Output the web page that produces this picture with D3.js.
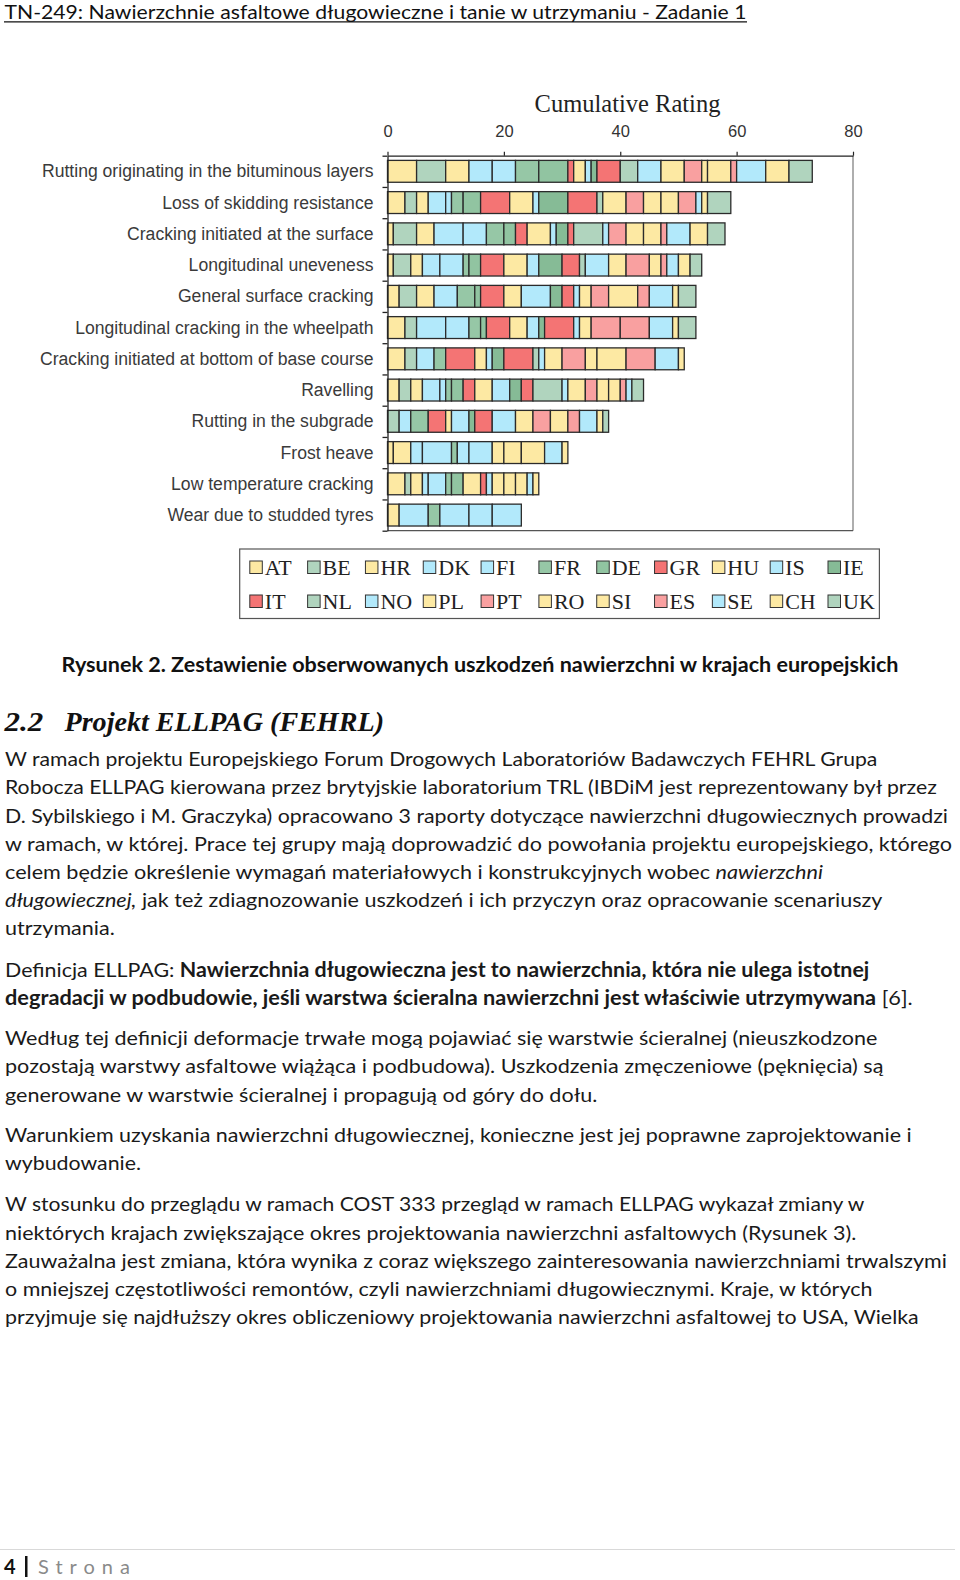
<!DOCTYPE html>
<html><head><meta charset="utf-8">
<script src="https://cdn.jsdelivr.net/npm/d3@7"></script>
<style>
body{margin:0;background:#fff}
svg text{white-space:pre}
</style>
</head><body>
<svg id="page" width="960" height="1580"></svg>
<script>
// ---------- chart data ----------
const damageTypes = [
  "Rutting originating in the bituminous layers",
  "Loss of skidding resistance",
  "Cracking initiated at the surface",
  "Longitudinal uneveness",
  "General surface cracking",
  "Longitudinal cracking in the wheelpath",
  "Cracking initiated at bottom of base course",
  "Ravelling",
  "Rutting in the subgrade",
  "Frost heave",
  "Low temperature cracking",
  "Wear due to studded tyres"
];
const countries = ["AT","BE","HR","DK","FI","FR","DE","GR","HU","IS","IE",
                   "IT","NL","NO","PL","PT","RO","SI","ES","SE","CH","UK"];
const countryColors = ["#fde9a3","#b0d4be","#fde9a3","#b2e9fb","#b2e9fb","#96c7a6","#91c4a1","#f47474","#fde9a3","#b2e9fb","#86bb96",
                       "#f47474","#b0d4be","#b2e9fb","#fde9a3","#f9a0a0","#fde9a3","#fde9a3","#f9a0a0","#b2e9fb","#fde9a3","#b0d4be"];
const ratingTicks = [0, 20, 40, 60, 80];
const axisTitle = "Cumulative Rating";

// series values: one rating per damage type (same order as damageTypes)
const AT = [5,3,1,1,2,3,3,2,0,1,3,2];
const BE = [5,2,4,3,3,2,2,2,2,0,1,0];
const HR = [4,2,3,2,3,0,0,2,0,3,2,0];
const DK = [4,3,5,3,4,5,3,3,2,2,1,0];
const FI = [4,1,4,4,0,4,0,1,0,5,3,5];
const FR = [4,2,3,1,3,2,2,1,3,1,1,2];
const DE = [5,3,2,2,1,1,0,2,0,0,2,0];
const GR = [1,5,2,4,4,4,5,2,3,0,0,0];
const HU = [2,4,4,4,3,3,2,3,1,0,3,0];
const IS = [1,1,1,2,5,2,1,3,3,2,0,5];
const IE = [1,5,2,4,2,1,2,2,1,0,0,0];
const IT = [4,5,1,3,2,5,5,2,3,0,1,0];
const NL = [3,1,5,1,0,0,1,5,0,0,0,0];
const NO = [4,0,1,4,1,1,1,1,4,4,1,4];
const PL = [4,4,0,3,2,2,3,3,3,2,2,0];
const PT = [3,3,3,4,3,5,4,2,3,0,0,0];
const RO = [1,3,3,2,5,0,2,2,3,3,2,0];
const SI = [4,3,3,0,0,0,5,2,0,4,2,0];
const ES = [1,3,1,1,2,5,5,1,2,0,0,0];
const SE = [5,1,4,2,4,4,4,1,3,3,1,5];
const CH = [4,1,3,2,1,1,1,0,1,1,1,0];
const UK = [4,4,3,2,3,3,0,2,1,0,0,0];
const seriesValues = [AT,BE,HR,DK,FI,FR,DE,GR,HU,IS,IE,IT,NL,NO,PL,PT,RO,SI,ES,SE,CH,UK];

// ---------- page texts ----------
const headerText = "TN-249: Nawierzchnie asfaltowe długowieczne i tanie w utrzymaniu - Zadanie 1";
const captionText = "Rysunek 2. Zestawienie obserwowanych uszkodzeń nawierzchni w krajach europejskich";
const sectionNumber = "2.2";
const sectionTitle = "Projekt ELLPAG (FEHRL)";
const bodyLines = [
  [["W ramach projektu Europejskiego Forum Drogowych Laboratoriów Badawczych FEHRL Grupa"]],
  [["Robocza ELLPAG kierowana przez brytyjskie laboratorium TRL (IBDiM jest reprezentowany był przez"]],
  [["D. Sybilskiego i M. Graczyka) opracowano 3 raporty dotyczące nawierzchni długowiecznych prowadzi"]],
  [["w ramach, w której. Prace tej grupy mają doprowadzić do powołania projektu europejskiego, którego"]],
  [["celem będzie określenie wymagań materiałowych i konstrukcyjnych wobec "],["nawierzchni","i"]],
  [["długowiecznej,","i"],[" jak też zdiagnozowanie uszkodzeń i ich przyczyn oraz opracowanie scenariuszy"]],
  [["utrzymania."]],
  [["Definicja ELLPAG: "],["Nawierzchnia długowieczna jest to nawierzchnia, która nie ulega istotnej","b"]],
  [["degradacji w podbudowie, jeśli warstwa ścieralna nawierzchni jest właściwie utrzymywana","b"],[" [6]."]],
  [["Według tej definicji deformacje trwałe mogą pojawiać się warstwie ścieralnej (nieuszkodzone"]],
  [["pozostają warstwy asfaltowe wiążąca i podbudowa). Uszkodzenia zmęczeniowe (pęknięcia) są"]],
  [["generowane w warstwie ścieralnej i propagują od góry do dołu."]],
  [["Warunkiem uzyskania nawierzchni długowiecznej, konieczne jest jej poprawne zaprojektowanie i"]],
  [["wybudowanie."]],
  [["W stosunku do przeglądu w ramach COST 333 przegląd w ramach ELLPAG wykazał zmiany w"]],
  [["niektórych krajach zwiększające okres projektowania nawierzchni asfaltowych (Rysunek 3)."]],
  [["Zauważalna jest zmiana, która wynika z coraz większego zainteresowania nawierzchniami trwalszymi"]],
  [["o mniejszej częstotliwości remontów, czyli nawierzchniami długowiecznymi. Kraje, w których"]],
  [["przyjmuje się najdłuższy okres obliczeniowy projektowania nawierzchni asfaltowej to USA, Wielka"]]
];
const bodyBaselines = [766,794.3,822.5,850.7,878.9,907.1,935.3,976.5,1004.8,1045.1,1073.3,1101.5,1141.8,1170,1211.3,1239.5,1267.7,1295.9,1324.1];
const bodyRightEdges = [877.4,936.8,947.9,951.9,823,882.4,114.8,869.3,912.7,877.4,883.4,597.4,911.7,141,864.3,856.2,946.9,872.4,918.7];

// ---------- drawing ----------
const svg = d3.select("#page");
svg.append("rect").attr("width",960).attr("height",1580).attr("fill","#fff");
const bodyFont = "Lato, 'Open Sans', sans-serif";

// header
svg.append("text").attr("x",4.5).attr("y",18.6)
  .attr("font-family",bodyFont).attr("font-size",18.4).attr("fill","#111")
  .attr("textLength",742).attr("lengthAdjust","spacingAndGlyphs")
  .text(headerText);
svg.append("line").attr("x1",4).attr("x2",747).attr("y1",21.8).attr("y2",21.8)
  .attr("stroke","#111").attr("stroke-width",1.2);

// chart scales
const x = d3.scaleLinear().domain([0,80]).range([387.5,853]);
const y = d3.scaleBand().domain(damageTypes).range([155.7,530.7]).paddingInner(0.3).paddingOuter(0.15);
const yEdge = d3.scaleLinear().domain([0,damageTypes.length]).range([155.7,530.7]);

const tableRows = damageTypes.map((t,i)=>{
  const row = {type:t};
  countries.forEach((c,j)=>{ row[c] = seriesValues[j][i]; });
  return row;
});
const stacked = d3.stack().keys(countries)(tableRows);

const chart = svg.append("g");
// frame: right & bottom border
chart.append("line").attr("x1",x(80)).attr("x2",x(80)).attr("y1",155.7).attr("y2",530.7)
  .attr("stroke","#9a9a9a").attr("stroke-width",1.6);
chart.append("line").attr("x1",x(0)).attr("x2",x(80)).attr("y1",530.7).attr("y2",530.7)
  .attr("stroke","#555").attr("stroke-width",1.2);

// bars
stacked.forEach((layer,k)=>{
  chart.append("g").selectAll("rect")
    .data(layer.filter(d=>d[1]>d[0]))
    .join("rect")
    .attr("x",d=>x(d[0]))
    .attr("y",d=>y(d.data.type))
    .attr("width",d=>x(d[1])-x(d[0]))
    .attr("height",y.bandwidth())
    .attr("fill",countryColors[k])
    .attr("stroke","#2b2b2b").attr("stroke-width",1.3);
});

// top axis
const topAxis = chart.append("g").attr("transform","translate(0,155.7)")
  .call(d3.axisTop(x).tickValues(ratingTicks).tickSize(4).tickPadding(15).tickSizeOuter(0));
topAxis.select(".domain").attr("stroke","#222").attr("stroke-width",1.2);
topAxis.selectAll(".tick line").attr("stroke","#222").attr("stroke-width",1.2);
topAxis.selectAll(".tick text").attr("font-family","'Liberation Sans', Arial, sans-serif")
  .attr("font-size",16.5).attr("fill","#333");

// left axis (ticks at band edges)
const leftAxis = chart.append("g").attr("transform",`translate(${x(0)},0)`)
  .call(d3.axisLeft(yEdge).tickValues(d3.range(0,damageTypes.length+1)).tickSize(5).tickFormat("").tickSizeOuter(0));
leftAxis.select(".domain").attr("stroke","#222").attr("stroke-width",1.3);
leftAxis.selectAll(".tick line").attr("stroke","#222").attr("stroke-width",1.3);

// category labels
chart.append("g").selectAll("text").data(damageTypes).join("text")
  .attr("x",373.5).attr("y",d=>y(d)+y.bandwidth()/2+6)
  .attr("text-anchor","end")
  .attr("font-family","'Liberation Sans', Arial, sans-serif").attr("font-size",17.6).attr("fill","#3a3a3a")
  .text(d=>d);

// axis title
chart.append("text").attr("x",627.5).attr("y",111.5).attr("text-anchor","middle")
  .attr("font-family","'Liberation Serif', 'Times New Roman', serif").attr("font-size",24.5).attr("fill","#222")
  .text(axisTitle);

// legend
const legend = svg.append("g");
legend.append("rect").attr("x",239.7).attr("y",549).attr("width",639.7).attr("height",69.5)
  .attr("fill","#fff").attr("stroke","#555").attr("stroke-width",1.2);
const legendCol = d3.scaleLinear().domain([0,10]).range([249.8,828]);
const legendRow = d3.scaleLinear().domain([0,1]).range([567.5,601.5]);
const items = legend.selectAll("g.item").data(countries).join("g").attr("class","item")
  .attr("transform",(d,i)=>`translate(${legendCol(i%11)},${legendRow(Math.floor(i/11))})`);
items.append("rect").attr("x",0).attr("y",-6.5).attr("width",12.5).attr("height",12.5)
  .attr("fill",(d,i)=>countryColors[i]).attr("stroke","#333").attr("stroke-width",1);
items.append("text").attr("x",15).attr("y",7.5)
  .attr("font-family","'Liberation Serif', 'Times New Roman', serif").attr("font-size",22).attr("fill","#222")
  .text(d=>d);

// caption
svg.append("text").attr("x",61.5).attr("y",671.5)
  .attr("font-family",bodyFont).attr("font-weight","bold").attr("font-size",20).attr("fill","#111")
  .attr("textLength",837).attr("lengthAdjust","spacingAndGlyphs")
  .text(captionText);

// section heading
svg.append("text").attr("x",4.5).attr("y",731)
  .attr("font-family","'Liberation Serif', serif").attr("font-weight","bold").attr("font-style","italic")
  .attr("font-size",28).attr("fill","#111")
  .attr("textLength",38.8).attr("lengthAdjust","spacingAndGlyphs").text(sectionNumber);
svg.append("text").attr("x",64.5).attr("y",731)
  .attr("font-family","'Liberation Serif', serif").attr("font-weight","bold").attr("font-style","italic")
  .attr("font-size",28).attr("fill","#111")
  .attr("textLength",319.5).attr("lengthAdjust","spacingAndGlyphs").text(sectionTitle);

// body lines
bodyLines.forEach((segs,i)=>{
  const t = svg.append("text").attr("x",5).attr("y",bodyBaselines[i])
    .attr("font-family",bodyFont).attr("font-size",20).attr("fill","#1a1a1a")
    .attr("textLength",bodyRightEdges[i]-5).attr("lengthAdjust","spacingAndGlyphs");
  segs.forEach(s=>{
    const sp = t.append("tspan").text(s[0]);
    if (s[1]==="b") sp.attr("font-weight","bold");
    if (s[1]==="i") sp.attr("font-style","italic");
  });
});

// footer
svg.append("line").attr("x1",0).attr("x2",955).attr("y1",1549.5).attr("y2",1549.5)
  .attr("stroke","#d9d9d9").attr("stroke-width",1.2);
svg.append("text").attr("x",4).attr("y",1574).attr("font-family",bodyFont).attr("font-weight","bold")
  .attr("font-size",20).attr("fill","#111").text("4");
svg.append("rect").attr("x",25).attr("y",1556).attr("width",2.5).attr("height",21).attr("fill","#111");
svg.append("text").attr("x",38).attr("y",1574).attr("font-family",bodyFont)
  .attr("font-size",20).attr("fill","#8a8a8a").attr("letter-spacing",7).text("Strona");
</script>
</body></html>
